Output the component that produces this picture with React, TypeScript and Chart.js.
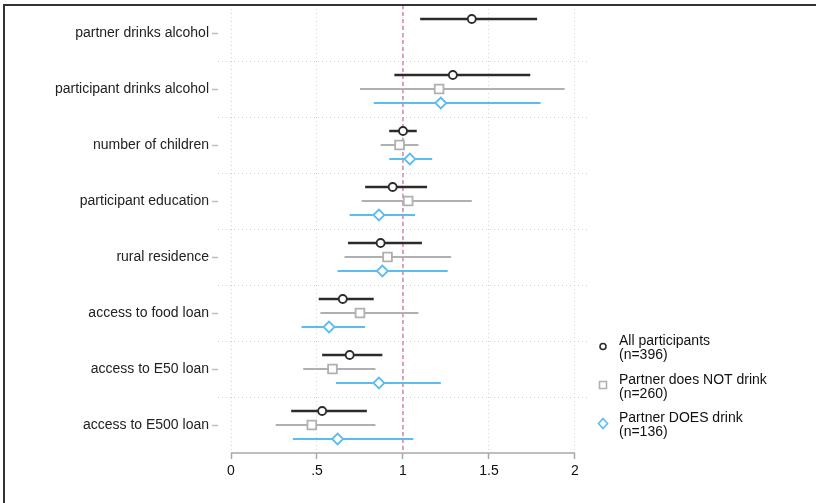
import React, { useEffect, useRef } from "react";
import { Chart, registerables } from "chart.js";

Chart.register(...registerables);

// ---------- data ----------
const categories = [
  "partner drinks alcohol",
  "participant drinks alcohol",
  "number of children",
  "participant education",
  "rural residence",
  "access to food loan",
  "access to E50 loan",
  "access to E500 loan",
];

const seriesNames = ["All participants", "Partner does NOT drink", "Partner DOES drink"];
const seriesCounts = ["(n=396)", "(n=260)", "(n=136)"];

const allEst = [1.4, 1.29, 1.0, 0.94, 0.87, 0.65, 0.69, 0.53];
const allLo = [1.1, 0.95, 0.92, 0.78, 0.68, 0.51, 0.53, 0.35];
const allHi = [1.78, 1.74, 1.08, 1.14, 1.11, 0.83, 0.88, 0.79];

const notEst = [null, 1.21, 0.98, 1.03, 0.91, 0.75, 0.59, 0.47];
const notLo = [null, 0.75, 0.87, 0.76, 0.66, 0.52, 0.42, 0.26];
const notHi = [null, 1.94, 1.09, 1.4, 1.28, 1.09, 0.84, 0.84];

const drinkEst = [null, 1.22, 1.04, 0.86, 0.88, 0.57, 0.86, 0.62];
const drinkLo = [null, 0.83, 0.92, 0.69, 0.62, 0.41, 0.61, 0.36];
const drinkHi = [null, 1.8, 1.17, 1.07, 1.26, 0.78, 1.22, 1.06];

const xTickValues = [0, 0.5, 1, 1.5, 2];
const xTickLabels = ["0", ".5", "1", "1.5", "2"];
const referenceValue = 1;

// ---------- styling ----------
const FONT = "'Liberation Sans', Arial, Helvetica, sans-serif";
const colors = ["#2b2b2b", "#b0b0b0", "#5cbcef"];
const lineWidths = [2.5, 2, 2];
const pointStyles = ["circle", "rect", "rectRot"];
const pointRadii = [4, 6.2, 5.5];
const rowOffsets = [-0.25, 0, 0.25];
const PLOT_TOP = 5;

type P = { x: number | null; y: number | null };

function ciSegments(lo: (number | null)[], hi: (number | null)[], off: number): P[] {
  const out: P[] = [];
  lo.forEach((l, i) => {
    const h = hi[i];
    if (l == null || h == null) return;
    out.push({ x: l, y: i + off }, { x: h, y: i + off }, { x: null, y: null });
  });
  return out;
}

function points(est: (number | null)[], off: number): P[] {
  const out: P[] = [];
  est.forEach((e, i) => {
    if (e == null) return;
    out.push({ x: e, y: i + off });
  });
  return out;
}

const decorPlugin = {
  id: "decor",
  afterLayout(chart: any) {
    const ys = chart.scales.y;
    const area = chart.chartArea;
    if (!ys || !area) return;
    area.top = PLOT_TOP;
    area.height = area.bottom - PLOT_TOP;
    ys.top = PLOT_TOP;
    ys.height = ys.bottom - PLOT_TOP;
    if (typeof ys.configure === "function") ys.configure();
  },
  beforeDatasetsDraw(chart: any) {
    const { ctx, chartArea, scales } = chart;
    const xs = scales.x;
    const ys = scales.y;
    ctx.save();
    // dotted separators between categories
    ctx.strokeStyle = "#cfcfcf";
    ctx.lineWidth = 1;
    ctx.setLineDash([1, 3]);
    for (let i = 0; i < categories.length - 1; i++) {
      const y = Math.round(ys.getPixelForValue(i + 0.5)) + 0.5;
      ctx.beginPath();
      ctx.moveTo(chartArea.left, y);
      ctx.lineTo(chartArea.right, y);
      ctx.stroke();
    }
    // reference line
    const rx = xs.getPixelForValue(referenceValue);
    ctx.strokeStyle = "#d98bb6";
    ctx.lineWidth = 1.6;
    ctx.setLineDash([4, 3]);
    ctx.beginPath();
    ctx.moveTo(rx, chartArea.top);
    ctx.lineTo(rx, chartArea.bottom);
    ctx.stroke();
    // x axis line spanning first to last tick
    ctx.setLineDash([]);
    ctx.strokeStyle = "#a8a8a8";
    ctx.lineWidth = 1.5;
    const ay = chartArea.bottom;
    ctx.beginPath();
    ctx.moveTo(xs.getPixelForValue(xTickValues[0]), ay);
    ctx.lineTo(xs.getPixelForValue(xTickValues[xTickValues.length - 1]), ay);
    ctx.stroke();
    ctx.restore();
  },
  afterDraw(chart: any) {
    const { ctx } = chart;
    ctx.save();
    // frame
    ctx.strokeStyle = "#333";
    ctx.lineWidth = 2;
    ctx.beginPath();
    ctx.moveTo(4, 503);
    ctx.lineTo(4, 5);
    ctx.lineTo(816, 5);
    ctx.stroke();
    // legend
    const mx = 603;
    const tx = 619;
    const centers = [346.5, 385, 423.5];
    ctx.font = `14px ${FONT}`;
    ctx.textBaseline = "middle";
    ctx.textAlign = "left";
    centers.forEach((cy, i) => {
      ctx.strokeStyle = colors[i];
      ctx.fillStyle = "#fff";
      ctx.lineWidth = 1.6;
      ctx.beginPath();
      if (i === 0) {
        ctx.arc(mx, cy, 3, 0, Math.PI * 2);
      } else if (i === 1) {
        ctx.rect(mx - 3.5, cy - 3.5, 7, 7);
      } else {
        ctx.moveTo(mx, cy - 5);
        ctx.lineTo(mx + 4.5, cy);
        ctx.lineTo(mx, cy + 5);
        ctx.lineTo(mx - 4.5, cy);
        ctx.closePath();
      }
      ctx.fill();
      ctx.stroke();
      ctx.fillStyle = "#111";
      ctx.fillText(seriesNames[i], tx, cy - 5);
      ctx.fillText(seriesCounts[i], tx, cy + 9);
    });
    ctx.restore();
  },
};

export default function App() {
  const canvasRef = useRef<HTMLCanvasElement | null>(null);

  useEffect(() => {
    document.body.style.margin = "0";
    const canvas = canvasRef.current;
    if (!canvas) return;

    const est = [allEst, notEst, drinkEst];
    const lo = [allLo, notLo, drinkLo];
    const hi = [allHi, notHi, drinkHi];

    const lineSets = [0, 1, 2].map((s) => ({
      type: "line" as const,
      label: seriesNames[s] + " CI",
      data: ciSegments(lo[s], hi[s], rowOffsets[s]),
      borderColor: colors[s],
      borderWidth: lineWidths[s],
      pointRadius: 0,
      pointHoverRadius: 0,
      spanGaps: false,
      fill: false,
      order: 2,
    }));

    const pointSets = [0, 1, 2].map((s) => ({
      type: "scatter" as const,
      label: seriesNames[s],
      data: points(est[s], rowOffsets[s]),
      pointStyle: pointStyles[s],
      pointRadius: pointRadii[s],
      pointBorderWidth: 1.8,
      pointBorderColor: colors[s],
      pointBackgroundColor: "#ffffff",
      showLine: false,
      order: 1,
    }));

    const chart = new Chart(canvas, {
      type: "scatter",
      data: { datasets: [...lineSets, ...pointSets] as any },
      options: {
        animation: false,
        responsive: false,
        maintainAspectRatio: false,
        layout: { padding: { top: 5, right: 229, bottom: 0, left: 0 } },
        plugins: {
          legend: { display: false },
          tooltip: { enabled: false },
        },
        scales: {
          x: {
            type: "linear",
            min: -0.0756,
            max: 2.07,
            afterBuildTicks: (s: any) => {
              s.ticks = xTickValues.map((v) => ({ value: v }));
            },
            afterFit: (s: any) => {
              s.height = 50;
            },
            ticks: {
              callback: (_v: any, i: number) => xTickLabels[i],
              color: "#111",
              font: { family: FONT, size: 14 },
              padding: 4,
              maxRotation: 0,
              autoSkip: false,
            },
            grid: {
              color: "#d4d4d4",
              lineWidth: 1,
              drawTicks: true,
              tickLength: 6,
              tickColor: "#a8a8a8",
              tickWidth: 1.5,
            },
            border: { display: false, dash: [1, 3] },
          },
          y: {
            type: "linear",
            min: -0.5,
            max: 7.5,
            reverse: true,
            afterBuildTicks: (s: any) => {
              s.ticks = categories.map((_, i) => ({ value: i }));
            },
            afterFit: (s: any) => {
              s.width = 218;
              s.paddingTop = 0;
              s.paddingBottom = 0;
            },
            ticks: {
              callback: (_v: any, i: number) => categories[i],
              color: "#222",
              font: { family: FONT, size: 14 },
              padding: 3,
              autoSkip: false,
            },
            grid: {
              drawOnChartArea: false,
              drawTicks: true,
              tickLength: 6,
              tickColor: "#bdbdbd",
              tickWidth: 1.5,
            },
            border: { display: false },
          },
        },
      } as any,
      plugins: [decorPlugin],
    });

    return () => chart.destroy();
  }, []);

  return (
    <div style={{ position: "fixed", left: 0, top: 0, width: 816, height: 503, background: "#fff" }}>
      <canvas ref={canvasRef} width={816} height={503} style={{ display: "block", width: 816, height: 503 }} />
    </div>
  );
}
